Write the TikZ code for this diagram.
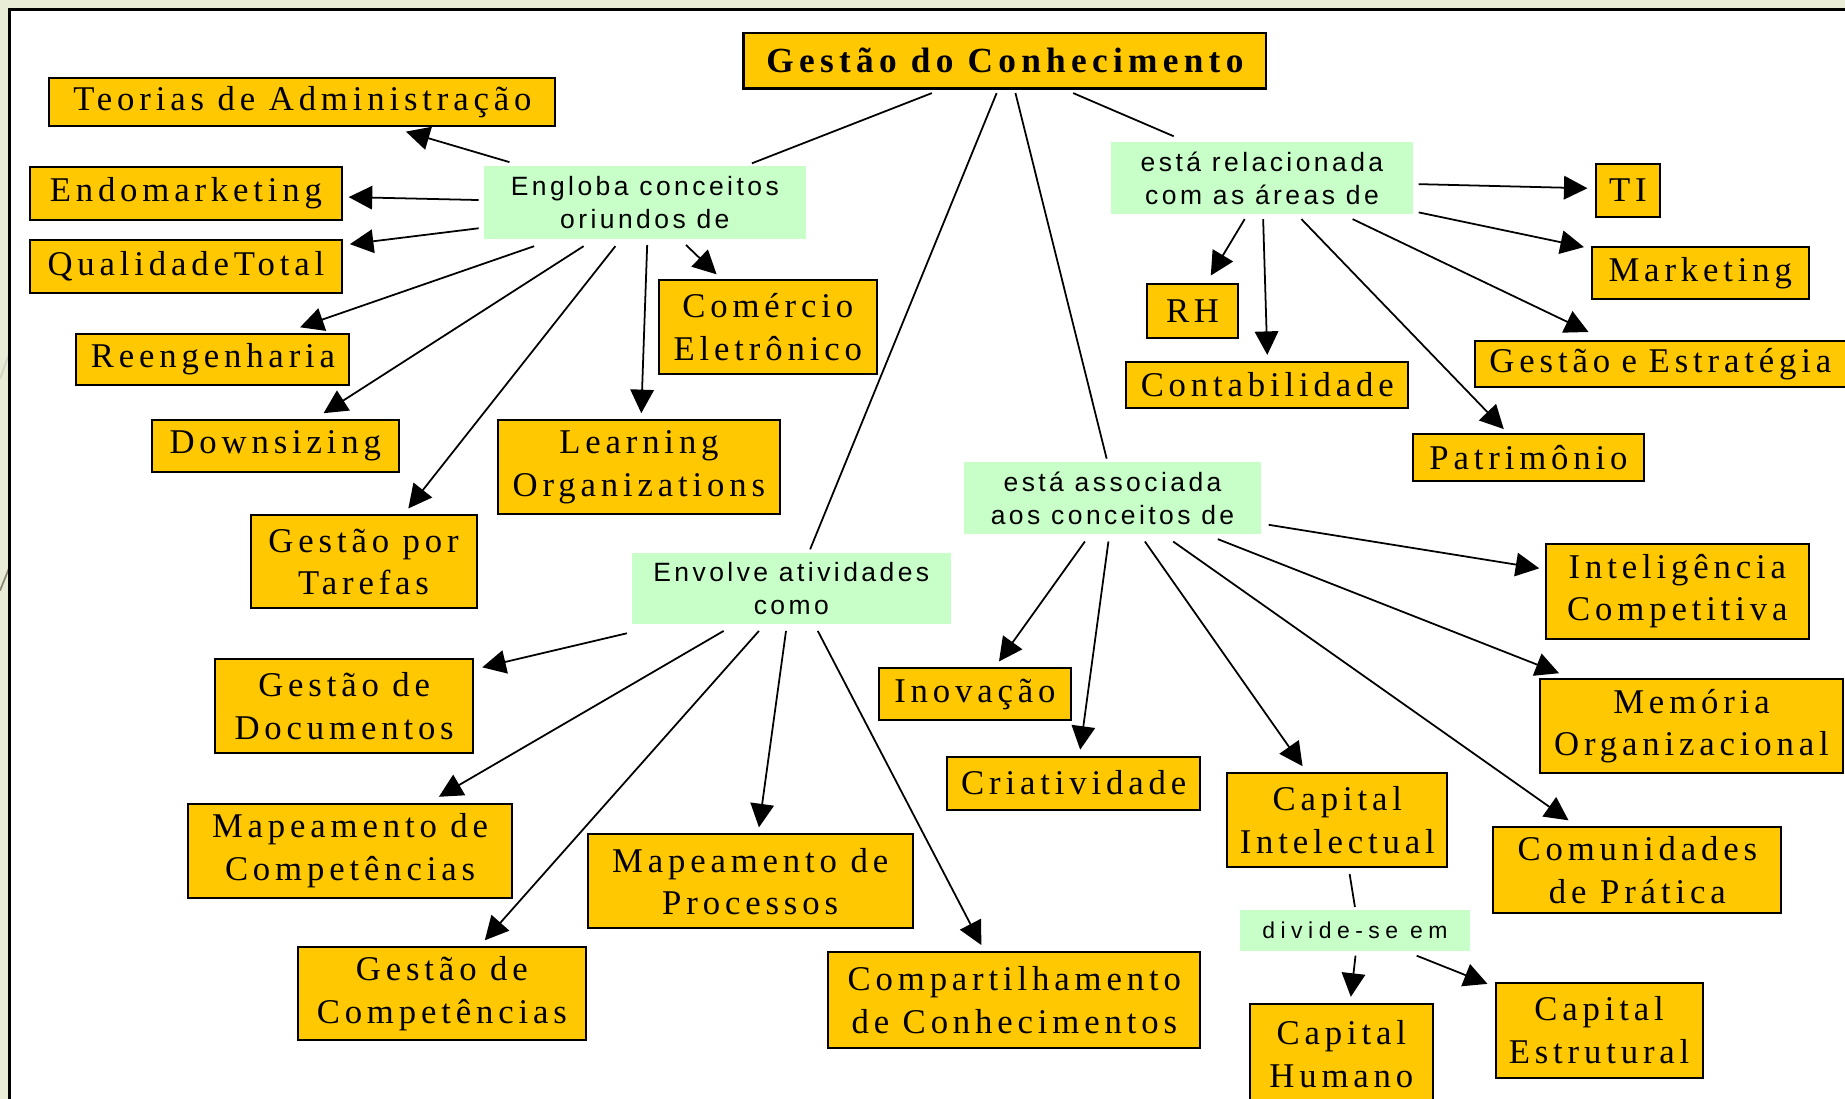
\documentclass[tikz,border=0pt]{standalone}
\usepackage{fontspec}
\usetikzlibrary{arrows.meta,calc}
\newfontfamily\bxfont[LetterSpace=14]{Liberation Serif}
\newfontfamily\ttlfont[LetterSpace=15]{Liberation Serif}
\newfontfamily\gfont[LetterSpace=13]{Liberation Sans}
\newfontfamily\gfontwide[LetterSpace=24]{Liberation Sans}
\definecolor{boxorange}{HTML}{FFC800}
\definecolor{boxgreen}{HTML}{C8FFC8}
\definecolor{slidebg}{HTML}{E9EDD8}
\definecolor{slidelineA}{HTML}{D2D6C2}
\definecolor{slidelineB}{HTML}{8E8870}
\tikzset{
  sz/.style 2 args={minimum width=#1pt, minimum height=#2pt},
  obox/.style={draw=black, line width=1.7pt, fill=boxorange, inner sep=0pt, align=center,
    font=\bxfont\fontsize{29.5}{36}\selectfont},
  tbox/.style={draw=black, line width=2.2pt, fill=boxorange, inner sep=0pt, align=center,
    font=\ttlfont\bfseries\fontsize{30}{36}\selectfont},
  gbox/.style={fill=boxgreen, inner sep=0pt, align=center,
    font=\gfont\fontsize{22.5}{28}\selectfont},
  ln/.style={line width=1.5pt, draw=black},
  arr/.style={line width=1.5pt, draw=black, -{Triangle[length=20pt,width=20pt]}}
}
\begin{document}
\begin{tikzpicture}[x=1pt,y=-1pt]
\useasboundingbox (0,0) rectangle (1568,934);
\fill[slidebg] (0,0) rectangle (1568,934);
\draw[slidelineA, line width=1.5pt] (0,322) -- (8,300);
\draw[slidelineB, line width=1.5pt] (0,502) -- (8,482);
\fill[white] (8,8) rectangle (1600,960);
\draw[line width=2pt] (8,960) -- (8,8) -- (1600,8);

% title
\node[tbox, sz={444}{47}] (ttl) at (854,51.5) {Gestão do Conhecimento};

% green labels
\node[gbox, sz={274}{62}] (eng) at (548,172) {Engloba conceitos\\oriundos de};
\node[gbox, sz={271}{60}] (env) at (672.5,500) {Envolve atividades\\como};
\node[gbox, sz={257}{61}] (rel) at (1072.5,151.5) {está relacionada\\com as áreas de};
\node[gbox, sz={253}{61}] (ass) at (945.5,423.5) {está associada\\aos conceitos de};
\node[gbox, sz={195}{35}, font=\gfontwide\fontsize{19.5}{24}\selectfont] (dvd) at (1151.5,790.5) {divide-se em};

% left group
\node[obox, sz={430}{41}] (teo) at (257,86.5) {Teorias de Administração};
\node[obox, sz={265}{45}] (endo) at (158,164.5) {Endomarketing};
\node[obox, sz={265}{45}] (qt) at (158,226.5) {QualidadeTotal};
\node[obox, sz={232}{43}] (ree) at (181,305.5) {Reengenharia};
\node[obox, sz={210}{44}] (dwn) at (234,379) {Downsizing};
\node[obox, sz={192}{79}] (gpt) at (309,477.5) {Gestão por\\Tarefas};
\node[obox, sz={240}{80}] (lrn) at (543,397) {Learning\\Organizations};
\node[obox, sz={185}{80}] (com) at (652.5,278) {Comércio\\Eletrônico};

% envolve group
\node[obox, sz={219}{80}] (gdo) at (292.5,600) {Gestão de\\Documentos};
\node[obox, sz={275}{80}] (mco) at (297.5,723) {Mapeamento de\\Competências};
\node[obox, sz={245}{79}] (gco) at (375.5,844.5) {Gestão de\\Competências};
\node[obox, sz={276}{80}] (mpr) at (637.5,749) {Mapeamento de\\Processos};
\node[obox, sz={316}{82}] (cmp) at (862,850) {Compartilhamento\\de Conhecimentos};

% relacionada group
\node[obox, sz={55}{45}] (ti) at (1383.5,161.5) {TI};
\node[obox, sz={184}{44}] (mkt) at (1445,232) {Marketing};
\node[obox, sz={77}{46}] (rh) at (1013.5,264) {RH};
\node[obox, sz={240}{39}] (con) at (1077,327) {Contabilidade};
\node[obox, minimum height=39pt, text width=316pt, inner xsep=12pt, align=left, anchor=west] (ges) at (1253,309.5) {Gestão e Estratégia};
\node[obox, sz={196}{40}] (pat) at (1299,388.5) {Patrimônio};

% associada group
\node[obox, sz={223}{81}] (int) at (1425.5,502.5) {Inteligência\\Competitiva};
\node[obox, sz={257}{80}] (mem) at (1437.5,617) {Memória\\Organizacional};
\node[obox, sz={163}{44}] (ino) at (828.5,590) {Inovação};
\node[obox, sz={215}{45}] (cri) at (912.5,665.5) {Criatividade};
\node[obox, sz={187}{80}] (cin) at (1136.5,697) {Capital\\Intelectual};
\node[obox, sz={245}{73}] (cdp) at (1391.5,739.5) {Comunidades\\de Prática};
\node[obox, sz={156}{86}] (chu) at (1140,896) {Capital\\Humano};
\node[obox, sz={176}{81}] (ces) at (1359,875.5) {Capital\\Estrutural};

% plain links
\draw[ln] ($(ttl.south)+(-62,3)$) -- ($(eng.north)+(91,-2)$);
\draw[ln] ($(ttl.south)+(-7,3)$) -- ($(env.north)+(16,-3)$);
\draw[ln] ($(ttl.south)+(9,3)$) -- ($(ass.north)+(-5,-3)$);
\draw[ln] ($(ttl.south)+(58,3)$) -- ($(rel.north)+(-75,-5)$);
\draw[ln] ($(cin.south)+(10.5,5)$) -- ($(dvd.north)+(0,-2)$);

% engloba arrows
\draw[arr] ($(eng.north)+(-115,-3)$) -- ($(teo.south)+(88,4)$);
\draw[arr] ($(eng.west)+(-4,-2)$) -- ($(endo.east)+(5,3)$);
\draw[arr] ($(eng.west)+(-4,22)$) -- ($(qt.east)+(6,-19)$);
\draw[arr] ($(eng.south)+(-94,6)$) -- ($(ree.north)+(74,-5)$);
\draw[arr] ($(eng.south)+(-52,6)$) -- ($(dwn.north)+(41,-5)$);
\draw[arr] ($(eng.south)+(-25,6)$) -- ($(gpt.north)+(38,-5)$);
\draw[arr] ($(eng.south)+(2,5)$) -- ($(lrn.north)+(2,-5)$);
\draw[arr] ($(eng.south)+(35,5)$) -- ($(com.north)+(-43.5,-4)$);

% relacionada arrows
\draw[arr] ($(rel.east)+(4.5,5)$) -- ($(ti.west)+(-6,-1.5)$);
\draw[arr] ($(rel.east)+(4.5,29)$) -- ($(mkt.west)+(-6,-22)$);
\draw[arr] ($(rel.south)+(77,4)$) -- ($(ges.north west)+(97,-7)$);
\draw[arr] ($(rel.south)+(33.5,4)$) -- ($(pat.north)+(-21,-3)$);
\draw[arr] ($(rel.south)+(1,4)$) -- ($(con.north)+(0,-5)$);
\draw[arr] ($(rel.south)+(-14.7,4)$) -- ($(rh.north)+(15.5,-6)$);

% associada arrows
\draw[arr] ($(ass.south)+(-23.5,6)$) -- ($(ino.north)+(20.5,-5)$);
\draw[arr] ($(ass.south)+(-3.5,6)$) -- ($(cri.north)+(5.5,-5)$);
\draw[arr] ($(ass.south)+(27.5,6)$) -- ($(cin.north)+(-29.5,-5)$);
\draw[arr] ($(ass.south)+(51.5,6)$) -- ($(cdp.north)+(-58.5,-5)$);
\draw[arr] ($(ass.south)+(89.5,4)$) -- ($(mem.north)+(-112.5,-4)$);
\draw[arr] ($(ass.east)+(6,22.5)$) -- ($(int.west)+(-5,-19.5)$);

% envolve arrows
\draw[arr] ($(env.south west)+(-4,8)$) -- ($(gdo.north east)+(7,8)$);
\draw[arr] ($(env.south)+(-57.5,6)$) -- ($(mco.north)+(75.5,-5)$);
\draw[arr] ($(env.south)+(-27.5,6)$) -- ($(gco.north)+(36.5,-5)$);
\draw[arr] ($(env.south)+(-4.5,6)$) -- ($(mpr.north)+(7.5,-5)$);
\draw[arr] ($(env.south)+(22.5,6)$) -- ($(cmp.north)+(-28,-5)$);

% divide-se arrows
\draw[arr] ($(dvd.south)+(0.5,4)$) -- ($(chu.north)+(8,-5)$);
\draw[arr] ($(dvd.south)+(52.5,4)$) -- ($(ces.north west)+(-6,2)$);
\end{tikzpicture}
\end{document}
